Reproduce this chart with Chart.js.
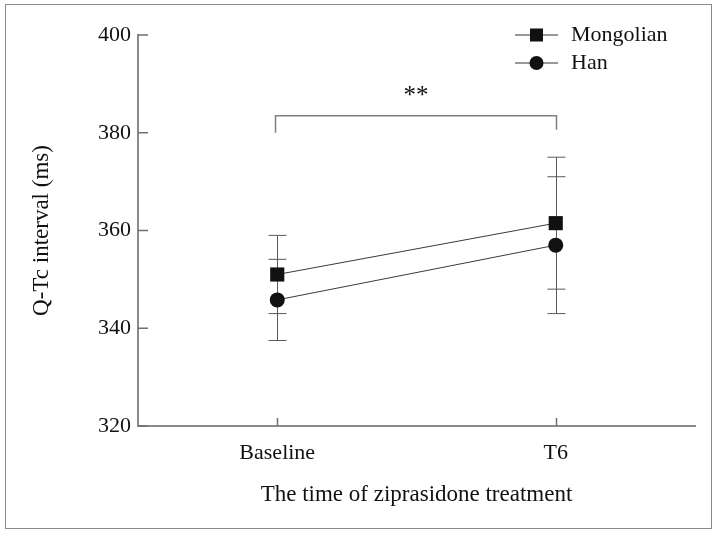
<!DOCTYPE html>
<html>
<head>
<meta charset="utf-8">
<script src="https://cdn.jsdelivr.net/npm/chart.js@4.4.0/dist/chart.umd.min.js"></script>
<style>
    body { margin: 0; background: #fff; }
    #wrap { position: relative; width: 717px; height: 533px; }
    #frame { position: absolute; left: 5px; top: 4px; width: 705px; height: 523px; border: 1px solid #8a8a8a; pointer-events: none; }
</style>
</head>
<body>
<div id="wrap">
    <canvas id="chart" width="717" height="533"></canvas>
    <div id="frame"></div>
</div>
<script>
const categories = ["Baseline", "T6"];
const mongolianMean = [351.0, 361.5];
const mongolianSD = [8.0, 13.5];
const hanMean = [345.8, 357.0];
const hanSD = [8.3, 14.0];
const yTicks = [320, 340, 360, 380, 400];
const sigText = "**";
const sigTop = 383.5;
const sigLegEnd = 380;
const sigTextAt = 388.5;

const serif = "'Liberation Serif', 'DejaVu Serif', serif";

const sdByDataset = [mongolianSD, hanSD];

// error bars, inward ticks, significance bracket and legend
const extras = {
    id: "extras",
    beforeDatasetsDraw(chart) {
        const ctx = chart.ctx;
        const x = chart.scales.x, y = chart.scales.y;
        ctx.save();
        ctx.strokeStyle = "#5a5a5a";
        ctx.lineWidth = 1;
        chart.data.datasets.forEach(function (ds, i) {
            ds.data.forEach(function (v, j) {
                const px = Math.round(x.getPixelForValue(j)) + 0.5;
                const hi = y.getPixelForValue(v + sdByDataset[i][j]);
                const lo = y.getPixelForValue(v - sdByDataset[i][j]);
                ctx.beginPath();
                ctx.moveTo(px, hi);
                ctx.lineTo(px, lo);
                ctx.moveTo(px - 9, hi);
                ctx.lineTo(px + 9, hi);
                ctx.moveTo(px - 9, lo);
                ctx.lineTo(px + 9, lo);
                ctx.stroke();
            });
        });
        ctx.restore();
    },
    afterDraw(chart) {
        const ctx = chart.ctx;
        const x = chart.scales.x, y = chart.scales.y;
        const area = chart.chartArea;
        ctx.save();

        // inward ticks
        ctx.strokeStyle = "#707070";
        ctx.lineWidth = 1.5;
        ctx.beginPath();
        yTicks.forEach(function (t) {
            const py = y.getPixelForValue(t);
            ctx.moveTo(area.left, py);
            ctx.lineTo(area.left + 10, py);
        });
        categories.forEach(function (c, j) {
            const px = Math.round(x.getPixelForValue(j)) + 0.5;
            ctx.moveTo(px, area.bottom);
            ctx.lineTo(px, area.bottom - 8);
        });
        ctx.stroke();

        // significance bracket
        const x0 = Math.round(x.getPixelForValue(0)) - 1.5;
        const x1 = Math.round(x.getPixelForValue(1)) + 0.5;
        const top = y.getPixelForValue(sigTop);
        const leg = y.getPixelForValue(sigLegEnd);
        ctx.strokeStyle = "#808080";
        ctx.lineWidth = 1.5;
        ctx.beginPath();
        ctx.moveTo(x0, leg);
        ctx.lineTo(x0, top);
        ctx.lineTo(x1, top);
        ctx.lineTo(x1, leg - 3);
        ctx.stroke();
        ctx.fillStyle = "#111";
        ctx.font = "25px " + serif;
        ctx.textAlign = "center";
        ctx.textBaseline = "middle";
        ctx.fillText(sigText, (x0 + x1) / 2, y.getPixelForValue(sigTextAt) + 5);

        // legend
        const lx = 515, lw = 43;
        chart.data.datasets.forEach(function (ds, i) {
            const ly = 35 + i * 28;
            ctx.strokeStyle = "#333";
            ctx.lineWidth = 1;
            ctx.beginPath();
            ctx.moveTo(lx, ly);
            ctx.lineTo(lx + lw, ly);
            ctx.stroke();
            ctx.fillStyle = "#111";
            if (ds.pointStyle === "rect") {
                ctx.fillRect(lx + lw / 2 - 6.5, ly - 6.5, 13, 13);
            } else {
                ctx.beginPath();
                ctx.arc(lx + lw / 2, ly, 7, 0, Math.PI * 2);
                ctx.fill();
            }
            ctx.font = "22px " + serif;
            ctx.textAlign = "left";
            ctx.textBaseline = "middle";
            ctx.fillText(ds.label, lx + lw + 13, ly);
        });
        ctx.restore();
    }
};

new Chart(document.getElementById("chart").getContext("2d"), {
    type: "line",
    data: {
        labels: categories,
        datasets: [
            {
                label: "Mongolian",
                data: mongolianMean,
                borderColor: "#3a3a3a",
                borderWidth: 1,
                pointStyle: "rect",
                pointRadius: 10,
                pointBackgroundColor: "#111",
                pointBorderColor: "#111",
                pointBorderWidth: 0
            },
            {
                label: "Han",
                data: hanMean,
                borderColor: "#3a3a3a",
                borderWidth: 1,
                pointStyle: "circle",
                pointRadius: 7.5,
                pointBackgroundColor: "#111",
                pointBorderColor: "#111",
                pointBorderWidth: 0
            }
        ]
    },
    options: {
        responsive: false,
        animation: false,
        events: [],
        layout: {
            padding: { top: 35, right: 22, bottom: 0, left: 0 }
        },
        plugins: {
            legend: { display: false },
            tooltip: { enabled: false }
        },
        scales: {
            x: {
                type: "category",
                offset: true,
                grid: { display: false, drawTicks: false },
                border: { display: true, color: "#8a8a8a", width: 2 },
                ticks: {
                    color: "#111",
                    padding: 14,
                    font: { family: serif, size: 22 }
                },
                title: {
                    display: true,
                    text: "The time of ziprasidone treatment",
                    color: "#111",
                    font: { family: serif, size: 23 },
                    padding: { top: 0, bottom: 24 }
                },
                afterFit: function (scale) { scale.height = 107; }
            },
            y: {
                min: 320,
                max: 400,
                afterBuildTicks: function (scale) {
                    scale.ticks = yTicks.map(function (v) { return { value: v }; });
                },
                grid: { display: false, drawTicks: false },
                border: { display: true, color: "#8a8a8a", width: 2 },
                ticks: {
                    color: "#111",
                    padding: 7,
                    font: { family: serif, size: 22 }
                },
                title: {
                    display: true,
                    text: "Q-Tc interval (ms)",
                    color: "#111",
                    font: { family: serif, size: 23 },
                    padding: { top: 28, bottom: 0 }
                },
                afterFit: function (scale) { scale.width = 138; }
            }
        }
    },
    plugins: [extras]
});
</script>
</body>
</html>
